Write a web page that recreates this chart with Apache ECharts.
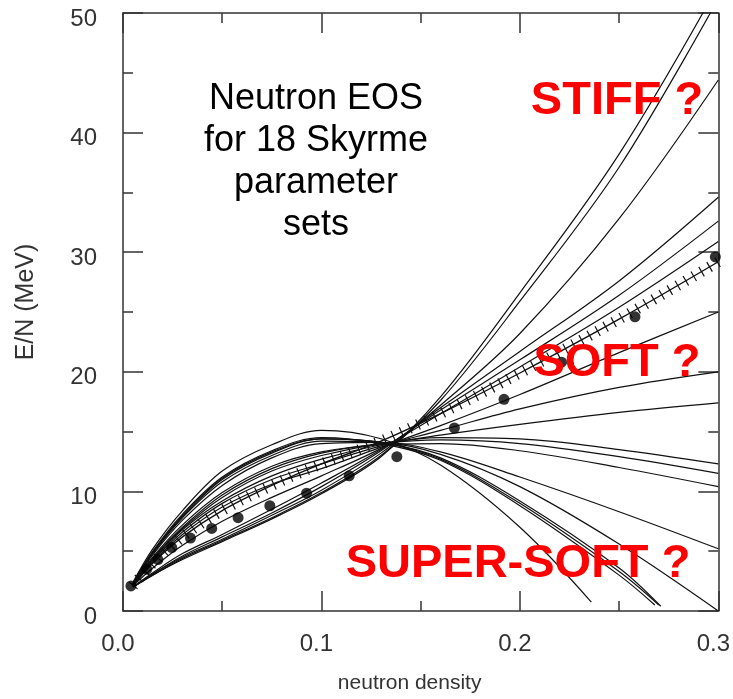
<!DOCTYPE html>
<html>
<head>
<meta charset="utf-8">
<title>Neutron EOS for 18 Skyrme parameter sets</title>
<script src="https://cdn.jsdelivr.net/npm/echarts@6/dist/echarts.min.js"></script>
<style>
  html, body { margin: 0; padding: 0; background: #ffffff; }
  #chart { width: 733px; height: 699px; }
</style>
</head>
<body>
<div id="chart"></div>
<script>
const FONT = '"Liberation Sans", Arial, Helvetica, sans-serif';

// Tick labels
const densityTickLabels = ['0.0', '0.1', '0.2', '0.3'];
const energyTickLabels = ['0', '10', '20', '30', '40', '50'];

// E/N (MeV) versus neutron density (fm^-3), one list of [rho, E/N] per Skyrme set
const skyrmeCurves = [
  // stiff sets
  [[0.005, 2.0], [0.015, 3.0], [0.03, 4.3], [0.05, 5.8], [0.075, 7.7], [0.1, 9.8], [0.13, 12.9], [0.16, 17.9], [0.2, 26.6], [0.25, 38.2], [0.3, 52.3]],
  [[0.005, 2.0], [0.015, 3.0], [0.03, 4.4], [0.05, 5.9], [0.075, 7.8], [0.1, 9.9], [0.13, 13.0], [0.16, 17.6], [0.2, 25.9], [0.25, 37.1], [0.3, 51.2]],
  [[0.005, 2.0], [0.015, 3.1], [0.03, 4.5], [0.05, 6.0], [0.075, 8.0], [0.1, 10.1], [0.13, 13.2], [0.16, 17.2], [0.2, 23.2], [0.25, 32.8], [0.3, 44.4]],
  [[0.005, 2.0], [0.015, 3.1], [0.03, 4.6], [0.05, 6.2], [0.075, 8.2], [0.1, 10.4], [0.13, 13.4], [0.16, 17.0], [0.2, 21.7], [0.25, 27.6], [0.3, 34.6]],
  [[0.005, 2.0], [0.015, 3.2], [0.03, 4.8], [0.05, 6.4], [0.075, 8.5], [0.1, 10.7], [0.13, 13.5], [0.16, 16.8], [0.2, 21.0], [0.25, 26.4], [0.3, 32.6]],
  [[0.005, 2.1], [0.015, 3.6], [0.03, 5.5], [0.05, 7.5], [0.075, 9.5], [0.1, 11.3], [0.13, 13.6], [0.16, 16.5], [0.2, 20.4], [0.25, 25.4], [0.3, 30.9]],
  // soft sets
  [[0.005, 2.1], [0.015, 4.1], [0.03, 6.4], [0.05, 8.7], [0.075, 10.6], [0.1, 11.9], [0.13, 13.7], [0.16, 15.5], [0.2, 18.1], [0.25, 21.6], [0.3, 25.0]],
  [[0.005, 2.2], [0.015, 4.2], [0.03, 6.6], [0.05, 9.0], [0.075, 11.0], [0.1, 12.3], [0.13, 13.8], [0.16, 15.1], [0.2, 16.9], [0.25, 18.7], [0.3, 20.0]],
  [[0.005, 2.2], [0.015, 4.3], [0.03, 6.8], [0.05, 9.2], [0.075, 11.3], [0.1, 12.7], [0.13, 13.9], [0.16, 14.7], [0.2, 15.6], [0.25, 16.6], [0.3, 17.4]],
  [[0.005, 2.2], [0.015, 4.4], [0.03, 6.9], [0.05, 9.5], [0.075, 11.7], [0.1, 13.0], [0.13, 14.0], [0.16, 14.5], [0.2, 14.4], [0.25, 13.5], [0.3, 12.3]],
  [[0.005, 2.2], [0.015, 4.4], [0.03, 7.0], [0.05, 9.7], [0.075, 11.9], [0.1, 13.2], [0.13, 14.0], [0.16, 14.3], [0.2, 14.0], [0.25, 12.9], [0.3, 11.5]],
  [[0.005, 2.2], [0.015, 4.5], [0.03, 7.2], [0.05, 9.9], [0.075, 12.1], [0.1, 13.3], [0.13, 13.9], [0.16, 14.0], [0.2, 13.4], [0.25, 12.0], [0.3, 10.4]],
  // super-soft sets
  [[0.005, 2.3], [0.015, 4.7], [0.03, 7.6], [0.05, 10.5], [0.075, 12.8], [0.1, 14.0], [0.13, 14.1], [0.16, 13.3], [0.2, 11.2], [0.25, 8.3], [0.3, 5.2]],
  [[0.005, 2.3], [0.015, 4.8], [0.03, 7.8], [0.05, 10.8], [0.075, 13.0], [0.1, 14.2], [0.13, 14.1], [0.16, 13.1], [0.2, 10.4], [0.25, 5.6], [0.3, 0.0]],
  [[0.005, 2.3], [0.015, 4.9], [0.03, 7.9], [0.05, 11.0], [0.075, 13.2], [0.1, 14.4], [0.13, 14.1], [0.16, 12.8], [0.2, 9.2], [0.25, 3.6], [0.271, 0.4]],
  [[0.005, 2.3], [0.015, 4.9], [0.03, 8.0], [0.05, 11.1], [0.075, 13.3], [0.1, 14.4], [0.13, 14.1], [0.16, 12.7], [0.2, 9.0], [0.25, 3.3], [0.27, 0.5]],
  [[0.005, 2.3], [0.015, 5.0], [0.03, 8.1], [0.05, 11.2], [0.075, 13.4], [0.1, 14.5], [0.13, 14.0], [0.16, 12.6], [0.2, 8.8], [0.25, 3.0], [0.268, 0.5]],
  [[0.005, 2.4], [0.015, 5.2], [0.03, 8.4], [0.05, 11.7], [0.075, 13.9], [0.1, 15.1], [0.13, 14.4], [0.16, 12.2], [0.2, 7.0], [0.236, 0.75]]
];

// Microscopic neutron-matter EOS drawn as the hatched curve
const hatchedEOS = [[0.005, 2.1], [0.015, 4.0], [0.03, 6.2], [0.05, 8.4], [0.075, 10.5], [0.1, 12.3], [0.13, 14.2], [0.16, 16.5], [0.2, 19.9], [0.25, 24.4], [0.3, 29.2]];

// Calculated points shown as filled dots
const dotsEOS = [[0.004, 2.1], [0.012, 3.5], [0.0176, 4.3], [0.0246, 5.3], [0.034, 6.1], [0.0447, 6.9], [0.058, 7.8], [0.074, 8.8], [0.0925, 9.85], [0.114, 11.3], [0.138, 12.9], [0.167, 15.3], [0.192, 17.7], [0.221, 20.8], [0.258, 24.6], [0.2985, 29.6]];

const AXIS_COLOR = '#333333';
const LINE_COLOR = '#111111';
const SMOOTH = 0.35;

function frameAxis(extra) {
  return Object.assign({
    type: 'value',
    axisLine: { show: true, onZero: false, lineStyle: { color: AXIS_COLOR, width: 1.5 } },
    axisTick: { show: true, inside: true, length: 20, lineStyle: { color: AXIS_COLOR, width: 1.5 } },
    minorTick: { show: true, splitNumber: 2, length: 10, lineStyle: { color: AXIS_COLOR, width: 1.5 } },
    splitLine: { show: false },
    minorSplitLine: { show: false }
  }, extra);
}

const chart = echarts.init(document.getElementById('chart'), null, { renderer: 'canvas' });

const series = skyrmeCurves.map((pts, i) => ({
  name: 'Skyrme ' + (i + 1),
  type: 'line',
  data: pts,
  smooth: SMOOTH,
  symbol: 'none',
  silent: true,
  clip: true,
  z: 2,
  lineStyle: { color: LINE_COLOR, width: 1.2 }
}));

// hatching: a wide stroke with very short dashes leaves cross ticks along the curve
series.push({
  name: 'hatch',
  type: 'line',
  data: hatchedEOS,
  smooth: SMOOTH,
  symbol: 'none',
  silent: true,
  clip: true,
  z: 3,
  lineStyle: { color: LINE_COLOR, width: 11, type: [1.2, 8], cap: 'butt' }
});
series.push({
  name: 'microscopic',
  type: 'line',
  data: hatchedEOS,
  smooth: SMOOTH,
  symbol: 'none',
  silent: true,
  clip: true,
  z: 3,
  lineStyle: { color: LINE_COLOR, width: 1.4 }
});
series.push({
  name: 'points',
  type: 'scatter',
  data: dotsEOS,
  symbol: 'circle',
  symbolSize: 11,
  silent: true,
  z: 4,
  itemStyle: { color: '#000000' }
});

chart.setOption({
  animation: false,
  backgroundColor: '#ffffff',
  textStyle: { fontFamily: FONT },
  grid: { left: 123, right: 13, top: 13, bottom: 87, containLabel: false },
  xAxis: [
    frameAxis({
      min: 0, max: 0.3, interval: 0.1, position: 'bottom',
      axisLabel: {
        show: true, margin: 21, color: '#333333', fontSize: 24, fontFamily: FONT,
        padding: [0, 10, 0, 0],
        formatter: v => densityTickLabels[Math.round(v / 0.1)]
      },
      name: 'neutron density',
      nameLocation: 'middle',
      nameGap: 62,
      nameTextStyle: { color: '#333333', fontSize: 21, fontFamily: FONT, padding: [0, 22, 0, 0] }
    }),
    frameAxis({
      min: 0, max: 0.3, interval: 0.1, position: 'top',
      axisLabel: { show: false }
    })
  ],
  yAxis: [
    frameAxis({
      min: 0, max: 50, interval: 10, position: 'left',
      axisLabel: {
        show: true, margin: 26, color: '#333333', fontSize: 24, fontFamily: FONT,
        verticalAlign: 'top', lineHeight: 12,
        formatter: v => energyTickLabels[Math.round(v / 10)]
      },
      name: 'E/N (MeV)',
      nameLocation: 'middle',
      nameGap: 84,
      nameTextStyle: { color: '#333333', fontSize: 25, fontFamily: FONT, padding: [0, 0, 0, 20] }
    }),
    frameAxis({
      min: 0, max: 50, interval: 10, position: 'right',
      axisLabel: { show: false }
    })
  ],
  series: series,
  graphic: [
    {
      type: 'text', z: 100, silent: true,
      style: {
        x: 316, y: 162,
        text: 'Neutron EOS\nfor 18 Skyrme\nparameter\nsets',
        align: 'center', verticalAlign: 'middle',
        fontSize: 36, lineHeight: 42, fontFamily: FONT, fill: '#000000'
      }
    },
    {
      type: 'text', z: 100, silent: true,
      style: {
        x: 617, y: 101, text: 'STIFF ?',
        align: 'center', verticalAlign: 'middle',
        fontSize: 47, fontWeight: 'bold', fontFamily: FONT, fill: '#ff0000'
      }
    },
    {
      type: 'text', z: 100, silent: true,
      style: {
        x: 617, y: 363, text: 'SOFT ?',
        align: 'center', verticalAlign: 'middle',
        fontSize: 47, fontWeight: 'bold', fontFamily: FONT, fill: '#ff0000'
      }
    },
    {
      type: 'text', z: 100, silent: true,
      style: {
        x: 518, y: 564, text: 'SUPER-SOFT ?',
        align: 'center', verticalAlign: 'middle',
        fontSize: 47, fontWeight: 'bold', fontFamily: FONT, fill: '#ff0000'
      }
    }
  ]
});
</script>
</body>
</html>
